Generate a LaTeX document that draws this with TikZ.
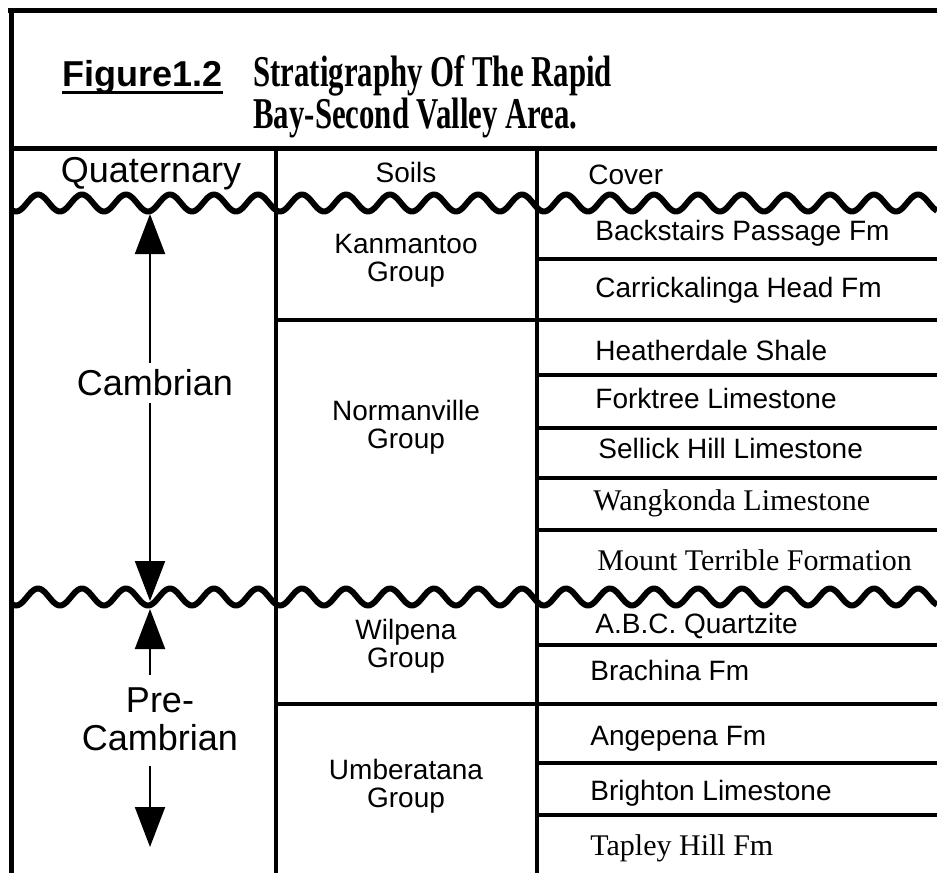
\documentclass[tikz,border=0pt]{standalone}
\usepackage{fontspec}
\setmainfont{Liberation Serif}
\setsansfont{Liberation Sans}
\newfontfamily\titlefont[FakeStretch=0.7]{Liberation Serif}
\usetikzlibrary{arrows.meta}

% two centred lines whose first baseline is the box baseline
\newcommand\twoline[2]{\begin{tabular}[t]{@{}c@{}}#1\\#2\end{tabular}}

\begin{document}
\begin{tikzpicture}[x=0.5pt, y=-0.5pt,
  border/.style={line width=2.5pt},
  rowline/.style={line width=2.4pt},
  divider/.style={line width=2pt},
  wave/.style={line width=3pt, line join=round},
  era/.style={font=\sffamily\fontsize{18}{19}\selectfont, inner sep=0pt, anchor=base},
  grp/.style={font=\sffamily\fontsize{14}{14}\selectfont, inner sep=0pt, anchor=base},
  fm/.style={font=\sffamily\fontsize{14}{14}\selectfont, inner sep=0pt, anchor=base west},
  fmserif/.style={font=\rmfamily\fontsize{15}{15}\selectfont, inner sep=0pt, anchor=base west},
  span/.style={line width=1pt, -{Triangle[width=15pt,length=20pt]}}]

\useasboundingbox (0,0) rectangle (937,873);

% ---- frame and title box ----
\draw[border] (8,10) -- (937,10);
\draw[border] (11,8) -- (11,873);
\draw[border] (9,148) -- (937,148);

\node[font=\sffamily\bfseries\fontsize{18}{18}\selectfont, inner sep=0pt, anchor=base west] (fig) at (62,86) {Figure1.2};
\draw[line width=1.5pt] ([yshift=-3pt]fig.base west) -- ([yshift=-3pt]fig.base east);
\node[font=\titlefont\bfseries\fontsize{22}{20.5}\selectfont, inner sep=0pt, anchor=base west] (title) at (253,86)
  {\begin{tabular}[t]{@{}l@{}}Stratigraphy Of The Rapid\\Bay-Second Valley Area.\end{tabular}};

% ---- column dividers ----
\draw[divider] (276,148) -- (276,873);
\draw[divider] (537,148) -- (537,873);

% ---- bed boundaries ----
\foreach \yy in {259,375,428,478,530,645,763,815}
  \draw[rowline] (537,\yy) -- (937,\yy);
\foreach \yy in {320,704}
  \draw[rowline] (276,\yy) -- (937,\yy);

% ---- unconformities ----
\draw[wave] plot[domain=11:937, samples=500] (\x, {203 + 8.5*cos(((\x-148)/44)*360)});
\draw[wave] plot[domain=11:937, samples=500] (\x, {597 + 8.5*cos(((\x-148)/44)*360)});

% ---- header row ----
\node[era] (quat) at (151,182) {Quaternary};
\node[grp] (soils) at (406,182) {Soils};
\node[fm] (cover) at (588,184) {Cover};

% ---- periods ----
\node[era] (camb) at (155,395) {Cambrian};
\node[era] (precamb) at (160,712) {\twoline{Pre-}{Cambrian}};

\coordinate (cambTop) at (150,214);
\coordinate (cambUp) at (150,363);
\coordinate (cambDown) at (150,403);
\coordinate (cambBase) at (150,601);
\coordinate (preTop) at (150,609);
\coordinate (preUp) at (150,675);
\coordinate (preDown) at (150,766);
\coordinate (preBase) at (150,847);
\draw[span] (cambUp) -- (cambTop);
\draw[span] (cambDown) -- (cambBase);
\draw[span] (preUp) -- (preTop);
\draw[span] (preDown) -- (preBase);

% ---- groups ----
\node[grp] (kan) at (406,253) {\twoline{Kanmantoo}{Group}};
\node[grp] (nor) at (406,420) {\twoline{Normanville}{Group}};
\node[grp] (wil) at (406,639) {\twoline{Wilpena}{Group}};
\node[grp] (umb) at (406,779) {\twoline{Umberatana}{Group}};

% ---- formations ----
\node[fm] (bsp) at (595,240) {Backstairs Passage Fm};
\node[fm] (chf) at (595,297) {Carrickalinga Head Fm};
\node[fm] (hds) at (595,360) {Heatherdale Shale};
\node[fm] (ftl) at (595,408) {Forktree Limestone};
\node[fm] (shl) at (598,458) {Sellick Hill Limestone};
\node[fmserif] (wkl) at (593,510) {Wangkonda Limestone};
\node[fmserif] (mtf) at (597,570) {Mount Terrible Formation};
\node[fm] (abc) at (595,633) {A.B.C. Quartzite};
\node[fm] (bra) at (590,680) {Brachina Fm};
\node[fm] (ang) at (590,745) {Angepena Fm};
\node[fm] (bri) at (590,800) {Brighton Limestone};
\node[fmserif] (thf) at (590,855) {Tapley Hill Fm};

\end{tikzpicture}
\end{document}
